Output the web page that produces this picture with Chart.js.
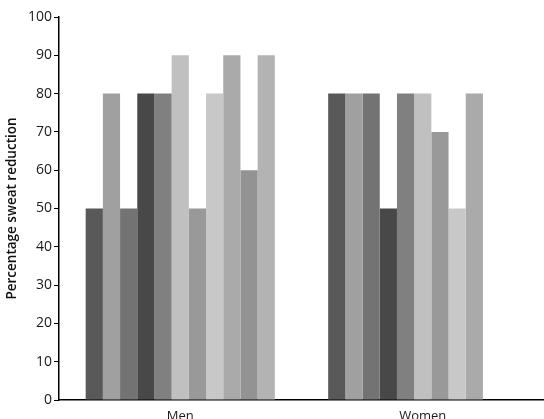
<!DOCTYPE html>
<html>
<head>
<meta charset="utf-8">
<script src="https://cdn.jsdelivr.net/npm/chart.js@4.4.1/dist/chart.umd.min.js"></script>
<style>
    html, body { margin: 0; padding: 0; background: #fff; }
    #wrap { width: 544px; height: 419px; }
</style>
</head>
<body>
<div id="wrap"><canvas id="bar-chart" width="544" height="419"></canvas></div>
<script>
// groups on the x axis
var categories = ["Men", "Women"];

// one value per bar (Women has only 9 bars)
var menValues = [50, 80, 50, 80, 80, 90, 50, 80, 90, 60, 90];
var womenValues = [80, 80, 80, 50, 80, 80, 70, 50, 80, null, null];

var barColors = ["#595959", "#a0a0a0", "#737373", "#484848", "#808080",
    "#c0c0c0", "#999999", "#c8c8c8", "#aaaaaa", "#939393", "#b3b3b3"];

var yTicks = [0, 10, 20, 30, 40, 50, 60, 70, 80, 90, 100];

var datasets = [];
menValues.forEach(function (v, i) {
    datasets.push({
        label: "Subject " + (i + 1),
        data: [v, womenValues[i]],
        backgroundColor: barColors[i],
        borderWidth: 0
    });
});

new Chart("bar-chart", {
    type: 'bar',
    data: {
        labels: categories,
        datasets: datasets
    },
    options: {
        responsive: false,
        animation: false,
        layout: {
            // plot runs a bit past the right edge, like the cropped original
            padding: { top: 17, right: -6, bottom: 0, left: 0 }
        },
        plugins: {
            legend: { display: false },
            tooltip: { enabled: false }
        },
        datasets: {
            bar: { categoryPercentage: 0.78, barPercentage: 1.0 }
        },
        scales: {
            x: {
                grid: { display: false },
                border: { display: true, color: "#000", width: 1.5 },
                ticks: {
                    color: "#1a1a1a",
                    font: { family: "Open Sans", size: 13 },
                    padding: 0
                },
                afterFit: function (scale) { scale.height = 19; }
            },
            y: {
                min: 0,
                max: 100,
                afterBuildTicks: function (scale) {
                    scale.ticks = yTicks.map(function (t) { return { value: t }; });
                },
                grid: {
                    drawOnChartArea: false,
                    drawTicks: true,
                    tickLength: 5,
                    color: "#000",
                    lineWidth: 1
                },
                border: { display: true, color: "#000", width: 1.5 },
                ticks: {
                    color: "#1a1a1a",
                    font: { family: "Open Sans", size: 14 },
                    padding: 2
                },
                title: {
                    display: true,
                    text: "Percentage sweat reduction",
                    color: "#111",
                    font: { family: "Open Sans", size: 13.5, weight: "600" },
                    padding: { top: 4, bottom: 0 }
                },
                afterFit: function (scale) { scale.width = 59; }
            }
        }
    }
});
</script>
</body>
</html>
